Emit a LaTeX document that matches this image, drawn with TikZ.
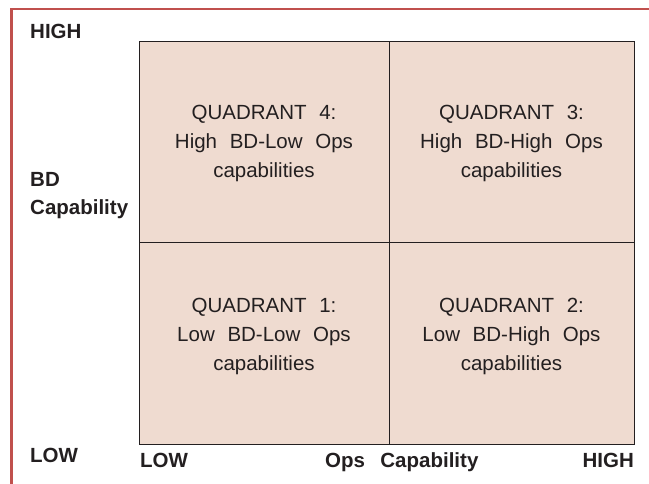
\documentclass[tikz,border=0pt]{standalone}
\usepackage{fontspec}
\setmainfont{Liberation Sans}
\definecolor{quadFill}{HTML}{EFDBD0}
\definecolor{frameRed}{HTML}{C0504D}
\definecolor{inkDark}{HTML}{231F20}
\usetikzlibrary{positioning}
\newcommand{\wsp}{\hspace{0.62em}}

\tikzset{
  quad/.style={draw=inkDark, line width=0.9pt, fill=quadFill, inner sep=0pt, outer sep=0pt,
               minimum height=201.5pt},
  quadtext/.style={text=inkDark, align=center, inner sep=0pt,
                   font=\fontsize{20.5}{29}\selectfont},
  axislabel/.style={text=inkDark, align=left, inner sep=0pt,
                    font=\bfseries\fontsize{20.5}{28}\selectfont},
}

\begin{document}
\begin{tikzpicture}[x=1pt, y=-1pt]
  \useasboundingbox (0,0) rectangle (649,484);
  \draw[frameRed, line width=2.4pt] (649,9) -- (11.5,9) -- (11.5,484);

  % the four cells
  \node[quad, minimum width=250pt, anchor=north west] (q4) at (139,41) {};
  \node[quad, minimum width=245pt, right=0pt of q4] (q3) {};
  \node[quad, minimum width=250pt, below=0pt of q4] (q1) {};
  \node[quad, minimum width=245pt, right=0pt of q1] (q2) {};

  \node[quadtext, yshift=-2pt] (t4) at (q4.center) {QUADRANT\wsp4:\\High\wsp BD-Low\wsp Ops\\capabilities};
  \node[quadtext, yshift=-2pt] (t3) at (q3.center) {QUADRANT\wsp3:\\High\wsp BD-High\wsp Ops\\capabilities};
  \node[quadtext, yshift=6.75pt] (t1) at (q1.center) {QUADRANT\wsp1:\\Low\wsp BD-Low\wsp Ops\\capabilities};
  \node[quadtext, yshift=6.75pt] (t2) at (q2.center) {QUADRANT\wsp2:\\Low\wsp BD-High\wsp Ops\\capabilities};

  % axis labels
  \node[axislabel, anchor=base west] (yhigh) at (30,39) {HIGH};
  \node[axislabel, anchor=north west] (yname) at (30,172) {BD\\Capability};
  \node[axislabel, anchor=base west] (ylow) at (30,462) {LOW};
  \node[axislabel, anchor=base west] (xlow) at (140,467) {LOW};
  \node[axislabel, anchor=base west] (xname) at (325,467) {Ops\hspace{0.75em}Capability};
  \node[axislabel, anchor=base east] (xhigh) at (634,467) {HIGH};
\end{tikzpicture}
\end{document}
